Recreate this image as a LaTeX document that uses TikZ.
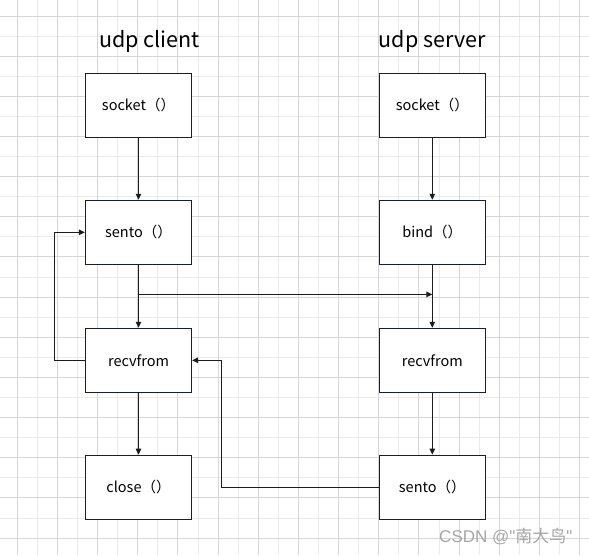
\documentclass[tikz,border=0pt]{standalone}
\usepackage{fontspec}
\setmainfont{Noto Sans CJK SC}
\newfontfamily\markfont{Liberation Sans}
\usetikzlibrary{arrows.meta, calc}
\definecolor{cline}{HTML}{1C1C1C}
\definecolor{cborder}{HTML}{1A1A40}
\definecolor{cgridmin}{HTML}{EBEBEB}
\definecolor{cgridmaj}{HTML}{D6D6D6}
\definecolor{cmark}{HTML}{A6A6A6}
\tikzset{
  every picture/.style={line width=1.1pt},
  box/.style={draw=cborder, fill=white, minimum width=106pt, minimum height=64pt, inner sep=0pt,
    font=\fontsize{14.5}{17}\selectfont},
  arrow/.style={-{Triangle[length=6pt, width=5.5pt]}, draw=cline, line width=1.1pt},
  title/.style={font=\fontsize{21.5}{25}\selectfont},
}

\begin{document}
\begin{tikzpicture}[x=1pt, y=-1pt]
  \useasboundingbox (0,0) rectangle (589,555);
  % grid
  \foreach \i in {0,...,30} {
    \draw[cgridmin, line width=0.9pt] (-2.8+20.08*\i,0) -- (-2.8+20.08*\i,555);
    \draw[cgridmin, line width=0.9pt] (0,-4.1+20.08*\i) -- (589,-4.1+20.08*\i);
  }
  \foreach \i in {1,3,...,29} {
    \draw[cgridmaj, line width=0.9pt] (-2.8+20.08*\i,0) -- (-2.8+20.08*\i,555);
    \draw[cgridmaj, line width=0.9pt] (0,-4.1+20.08*\i) -- (589,-4.1+20.08*\i);
  }
  % titles
  \node[title] (tclient) at (149.5,41) {udp client};
  \node[title] (tserver) at (432.3,41) {udp server};
  % client side
  \node[box] (csock) at (138.5,105.3) {socket（）};
  \node[box] (csend) at (138.5,232.3) {sento（）};
  \node[box] (crecv) at (138.5,360.3) {recvfrom};
  \node[box] (cclose) at (138.5,487.2) {close（）};
  % server side
  \node[box] (ssock) at (432.3,105.3) {socket（）};
  \node[box] (sbind) at (432.3,232.3) {bind（）};
  \node[box] (srecv) at (432.3,360.3) {recvfrom};
  \node[box] (ssend) at (432.3,487.2) {sento（）};
  % flow
  \draw[arrow] (csock) -- (csend);
  \draw[arrow] (csend) -- (crecv);
  \draw[arrow] (crecv) -- (cclose);
  \draw[arrow] (ssock) -- (sbind);
  \draw[arrow] (sbind) -- (srecv);
  \draw[arrow] (srecv) -- (ssend);
  \coordinate (fork) at ($(csend.south)!0.47!(crecv.north)$);
  \draw[arrow] (fork) -- (fork -| sbind.south);
  \draw[arrow] (crecv.west) -- ++(-30.3,0) |- (csend.west);
  \draw[arrow] (ssend.west) -- ++(-157.6,0) |- (crecv.east);
  % watermark
  \node[text=cmark, anchor=east, inner sep=0pt, font=\fontsize{17}{19}\selectfont] (mark) at (573,536.7)
    {{\markfont CSDN @"}南大鸟{\markfont "}};
\end{tikzpicture}
\end{document}
